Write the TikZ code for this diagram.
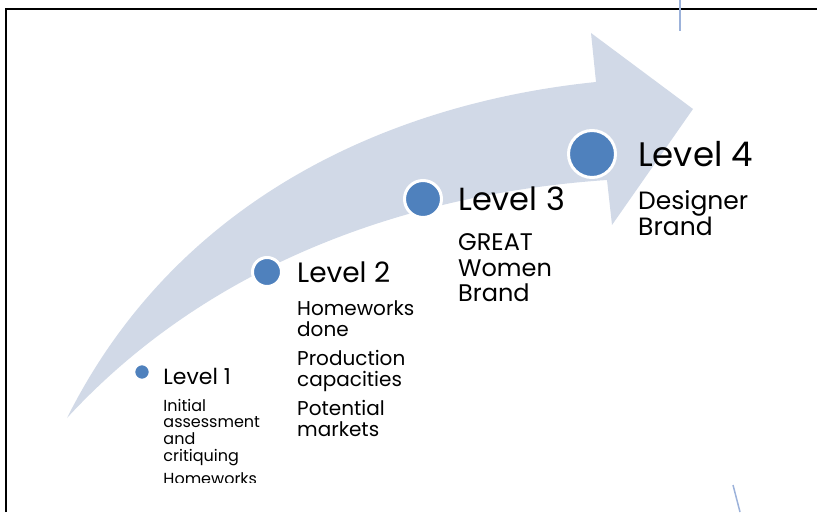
\documentclass[tikz,border=0pt]{standalone}
\usepackage{fontspec}
\setmainfont{Poppins}
\usetikzlibrary{positioning}
\definecolor{stepblue}{HTML}{4F81BD}
\definecolor{arrowfill}{HTML}{D1D9E7}
\definecolor{guideblue}{HTML}{9CB2DA}

\begin{document}
\begin{tikzpicture}[x=1pt, y=1pt,
  dot/.style={circle, fill=stepblue, draw=white, line width=3pt, inner sep=0pt},
  title/.style={inner sep=1pt, anchor=west},
  body/.style={inner sep=1pt, text width=130pt, align=left, anchor=base west}
]
\useasboundingbox (0,0) rectangle (817,512);

% frame and stray guide lines
\draw[line width=2.5pt] (6,0) -- (6,503) -- (817,503);
\draw[guideblue, line width=1.5pt] (680,512) -- (680,481);
\draw[guideblue, line width=1.5pt] (733,27) -- (740,0);

\begin{scope}
\clip (0,30) rectangle (817,512);

% curved progress arrow
\fill[arrowfill] (67,94) .. controls (180,320) and (400,410) .. (596,430)
  -- (591,479) -- (693,403) -- (612,287) -- (607,332)
  .. controls (430,320) and (220,260) .. (67,94) -- cycle;

% level markers
\node[dot, minimum size=15pt, line width=1.5pt] (d1) at (142,140) {};
\node[dot, minimum size=29pt] (d2) at (267,240) {};
\node[dot, minimum size=37pt] (d3) at (423,313) {};
\node[dot, minimum size=47pt] (d4) at (592,358) {};

\node[title, right=12pt of d1, yshift=-4pt, font=\fontsize{22}{24}\selectfont] (t1) {Level 1};
\node[title, right=13pt of d2, font=\fontsize{28}{30}\selectfont] (t2) {Level 2};
\node[title, right=14pt of d3, font=\fontsize{32}{34}\selectfont] (t3) {Level 3};
\node[title, right=20pt of d4, font=\fontsize{34}{36}\selectfont] (t4) {Level 4};

\node[body, font=\fontsize{16}{16.7}\selectfont] (b1) at ([yshift=-27pt]t1.base west)
  {Initial\\assessment\\and\\critiquing\\[7pt]Homeworks};
\node[body, font=\fontsize{20}{21}\selectfont] (b2) at ([yshift=-33pt]t2.base west)
  {Homeworks\\done\\[8pt]Production\\capacities\\[8pt]Potential\\markets};
\node[body, font=\fontsize{24}{25.5}\selectfont] (b3) at ([yshift=-40pt]t3.base west)
  {GREAT\\Women\\Brand};
\node[body, font=\fontsize{25}{24}\selectfont] (b4) at ([yshift=-43pt]t4.base west)
  {Designer\\Brand};
\end{scope}

\end{tikzpicture}
\end{document}
